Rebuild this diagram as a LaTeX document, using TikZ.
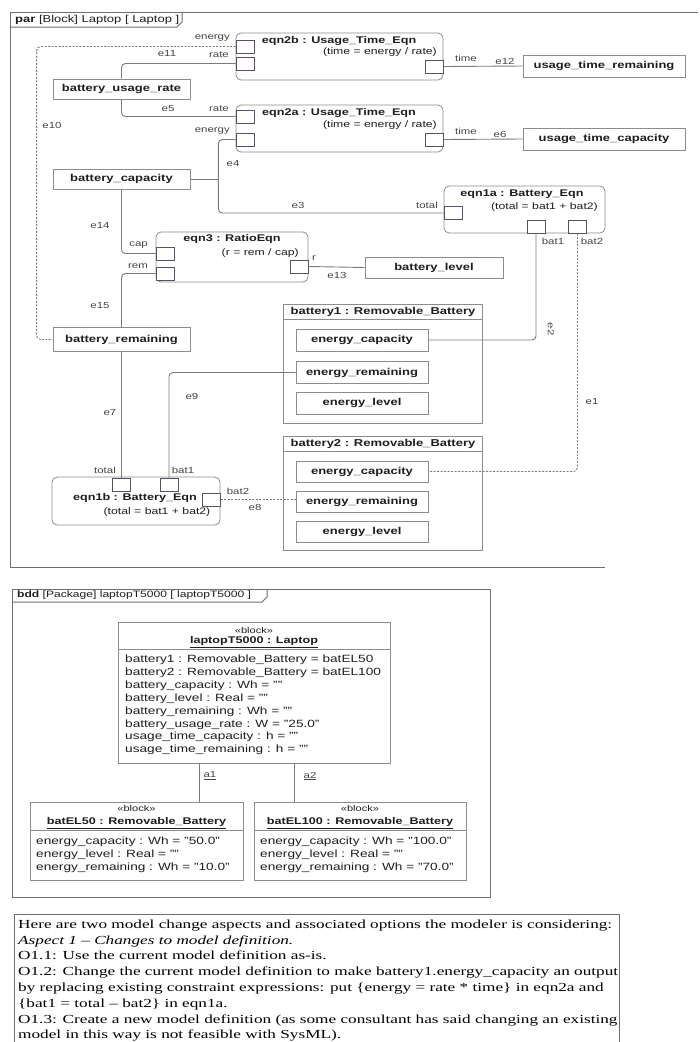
\documentclass[tikz,border=0pt]{standalone}
\usepackage{fontspec}
\usepackage{graphicx}
\setmainfont{Liberation Sans}[FakeStretch=1.3]
\newfontfamily\serifbox{Liberation Serif}
\usetikzlibrary{calc}
\definecolor{framec}{HTML}{707070}
\definecolor{boxc}{HTML}{8C8C8C}
\definecolor{linec}{HTML}{7A7A7A}
\definecolor{portc}{HTML}{5A5060}
\definecolor{txtc}{HTML}{1E1E1E}
\definecolor{lblc}{HTML}{444444}
\newlength\firstlinew
\newcommand\boxfont{\serifbox\fontsize{12.3}{14}\selectfont}
\settowidth\firstlinew{\boxfont Here are two model change aspects and associated options the modeler is considering:}
\newcommand\tline[1]{\scalebox{\tsx}[1]{#1}}
\tikzset{
  frame/.style={draw=framec, line width=1pt},
  box/.style={draw=boxc, line width=0.8pt, fill=white, inner sep=0pt, font=\fontsize{10}{12}\selectfont\bfseries, text=txtc},
  eqnbox/.style={draw=boxc, line width=0.8pt, rounded corners=5pt, inner sep=0pt},
  blk/.style={draw=boxc, line width=0.8pt, inner sep=0pt},
  port/.style={draw=portc, line width=1pt, fill=white, minimum width=18pt, minimum height=13pt, inner sep=0pt},
  ttl/.style={font=\fontsize{9.7}{11}\selectfont\bfseries, text=txtc, inner sep=0pt},
  expr/.style={font=\fontsize{9.4}{11}\selectfont, text=txtc, inner sep=0pt},
  lbl/.style={font=\fontsize{8.8}{10}\selectfont, text=lblc, inner sep=0pt},
  conn/.style={draw=linec, line width=0.9pt, rounded corners=4pt},
  dconn/.style={conn, dash pattern=on 2pt off 1.5pt},
  attr/.style={font=\fontsize{10.5}{12.9}\selectfont, text=txtc, inner sep=0pt, anchor=base west},
  stereo/.style={font=\fontsize{8.5}{10}\selectfont, text=txtc, inner sep=0pt},
  txt/.style={font=\boxfont, text=black, inner sep=0pt, anchor=base west},
}
\begin{document}
\begin{tikzpicture}[x=1pt,y=-1pt]
\pgfmathsetmacro\tsx{594/\firstlinew}
\useasboundingbox (0,0) rectangle (700,1042);
\fill[white] (0,0) rectangle (700,1042);

% ---------------- par frame ----------------
\draw[frame] (10,567) -- (10,12) -- (698,12);
\draw[frame] (10,567) -- (605,567);
\draw[frame] (10,27) -- (177,27) -- (182,22) -- (182,12);
\node[anchor=west, font=\fontsize{10}{11}\selectfont, text=txtc, inner sep=0pt] (partab) at (15,19.5) {\textbf{par} [Block] Laptop [ Laptop ]};

% equation blocks
\node[eqnbox, minimum width=207pt, minimum height=47pt] (eqn2b) at (339.5,56.5) {};
\node[ttl] (eqn2bt) at (339,41) {eqn2b : Usage\_Time\_Eqn};
\node[expr, anchor=east] (eqn2be) at (437,52) {(time = energy / rate)};
\node[port] (p2benergy) at (245,46.5) {};
\node[port] (p2brate) at (245,63.5) {};
\node[port] (p2btime) at (434,66.5) {};

\node[eqnbox, minimum width=207pt, minimum height=47pt] (eqn2a) at (339.5,128.5) {};
\node[ttl] (eqn2at) at (339,113) {eqn2a : Usage\_Time\_Eqn};
\node[expr, anchor=east] (eqn2ae) at (437,125) {(time = energy / rate)};
\node[port] (p2arate) at (245,116.5) {};
\node[port] (p2aenergy) at (245,139.5) {};
\node[port] (p2atime) at (434,139.5) {};

\node[eqnbox, minimum width=161pt, minimum height=47pt] (eqn1a) at (524.5,209.5) {};
\node[ttl] (eqn1at) at (522,194) {eqn1a : Battery\_Eqn};
\node[expr, anchor=east] (eqn1ae) at (598,207) {(total = bat1 + bat2)};
\node[port] (p1atotal) at (453,213) {};
\node[port] (p1abat1) at (536,226.5) {};
\node[port] (p1abat2) at (577.5,226.5) {};

\node[eqnbox, minimum width=152pt, minimum height=50pt] (eqn3) at (232,257) {};
\node[ttl] (eqn3t) at (232,239) {eqn3 : RatioEqn};
\node[expr, anchor=east] (eqn3e) at (299,253) {(r = rem / cap)};
\node[port] (p3cap) at (165,253.5) {};
\node[port] (p3rem) at (165,273.5) {};
\node[port] (p3r) at (299,266.5) {};

\node[eqnbox, minimum width=168pt, minimum height=48pt] (eqn1b) at (136,501) {};
\node[ttl] (eqn1bt) at (135,498) {eqn1b : Battery\_Eqn};
\node[expr] (eqn1be) at (157,512) {(total = bat1 + bat2)};
\node[port] (p1btotal) at (121.5,484.5) {};
\node[port] (p1bbat1) at (169,484.5) {};
\node[port] (p1bbat2) at (211,499.5) {};

% value properties
\node[box, minimum width=137pt, minimum height=20pt] (bur) at (121.5,89) {battery\_usage\_rate};
\node[box, minimum width=137pt, minimum height=20pt] (batcap) at (121.5,179) {battery\_capacity};
\node[box, minimum width=137pt, minimum height=24pt] (batrem) at (121.5,339.5) {battery\_remaining};
\node[box, minimum width=162pt, minimum height=22pt] (utr) at (604,66) {usage\_time\_remaining};
\node[box, minimum width=162pt, minimum height=22pt] (utc) at (604,139) {usage\_time\_capacity};
\node[box, minimum width=138pt, minimum height=21pt] (batlev) at (434,267.5) {battery\_level};

% battery parts
\node[blk, minimum width=199pt, minimum height=119pt] (b1) at (382.5,363.5) {};
\draw[draw=boxc, line width=0.8pt] ([yshift=-16pt]b1.north west) -- ([yshift=-16pt]b1.north east);
\node[ttl, font=\fontsize{10}{12}\selectfont\bfseries] (b1t) at (383,312) {battery1 : Removable\_Battery};
\node[box, minimum width=132pt, minimum height=22pt] (b1cap) at (362,340) {energy\_capacity};
\node[box, minimum width=132pt, minimum height=22pt] (b1rem) at (362,372.5) {energy\_remaining};
\node[box, minimum width=132pt, minimum height=22pt] (b1lev) at (362,403) {energy\_level};

\node[blk, minimum width=199pt, minimum height=114pt] (b2) at (382.5,493) {};
\draw[draw=boxc, line width=0.8pt] ([yshift=-16pt]b2.north west) -- ([yshift=-16pt]b2.north east);
\node[ttl, font=\fontsize{10}{12}\selectfont\bfseries] (b2t) at (383,444) {battery2 : Removable\_Battery};
\node[box, minimum width=132pt, minimum height=21pt] (b2cap) at (362,471.5) {energy\_capacity};
\node[box, minimum width=132pt, minimum height=21pt] (b2rem) at (362,501.5) {energy\_remaining};
\node[box, minimum width=132pt, minimum height=21pt] (b2lev) at (362,531.5) {energy\_level};

% connectors
\draw[dconn] (p2benergy.west) -| ([xshift=-16pt]batrem.west) -- (batrem.west);
\draw[conn] (p2brate.west) -| (bur.north);
\draw[conn] (bur.south) |- (p2arate.west);
\coordinate (j4) at ([xshift=28pt]batcap.east);
\draw[conn] (batcap.east) -- (j4);
\draw[conn] (p2aenergy.west) -| (j4);
\draw[conn] (j4) |- (p1atotal.west);
\draw[conn] (batcap.south) |- (p3cap.west);
\draw[conn] (p3rem.west) -| (batrem.north);
\draw[conn] (p3r.east) -- (batlev.west);
\draw[conn] (p2btime.east) -- (utr.west);
\draw[conn] (p2atime.east) -- (utc.west);
\draw[conn] (p1abat1.south) |- (b1cap.east);
\draw[dconn] (p1abat2.south) |- (b2cap.east);
\draw[conn] (b1rem.west) -| (p1bbat1.north);
\draw[conn] (batrem.south) -- (p1btotal.north);
\draw[dconn] (p1bbat2.east) -- (p1bbat2.east -| b2rem.west);

% port labels
\node[lbl, anchor=east] (l2benergy) at (230,38) {energy};
\node[lbl, anchor=east] (l2brate) at (229,54.5) {rate};
\node[lbl, anchor=east] (l2arate) at (229,109) {rate};
\node[lbl, anchor=east] (l2aenergy) at (230,131) {energy};
\node[lbl] (l2btime) at (466,58) {time};
\node[lbl] (l2atime) at (466,131) {time};
\node[lbl, anchor=east] (l1atotal) at (438,205) {total};
\node[lbl] (l1abat1) at (553,241) {bat1};
\node[lbl] (l1abat2) at (592,241) {bat2};
\node[lbl, anchor=east] (l3cap) at (148,245) {cap};
\node[lbl, anchor=east] (l3rem) at (148,266) {rem};
\node[lbl] (l3r) at (314,258) {r};
\node[lbl] (l1btotal) at (105,470) {total};
\node[lbl] (l1bbat1) at (183,470) {bat1};
\node[lbl] (l1bbat2) at (238,491) {bat2};

% connector labels
\node[lbl] (le11) at (167,54) {e11};
\node[lbl] (le5) at (168,109) {e5};
\node[lbl] (le10) at (52,125) {e10};
\node[lbl] (le4) at (233,164) {e4};
\node[lbl] (le3) at (298,205) {e3};
\node[lbl] (le14) at (100,226) {e14};
\node[lbl] (le15) at (100,306) {e15};
\node[lbl] (le13) at (337,275) {e13};
\node[lbl] (le12) at (505,61) {e12};
\node[lbl] (le6) at (500,134) {e6};
\node[lbl] (le7) at (110,413) {e7};
\node[lbl] (le9) at (192,396) {e9};
\node[lbl] (le1) at (592,402) {e1};
\node[lbl, rotate=-90] (le2) at (551,329) {e2};
\node[lbl] (le8) at (255,507) {e8};

% ---------------- bdd frame ----------------
\draw[frame] (12,589) rectangle (490,897);
\draw[frame] (12,602) -- (262,602) -- (267,597) -- (267,589);
\node[anchor=west, font=\fontsize{9.3}{11}\selectfont, text=txtc, inner sep=0pt] (bddtab) at (17,595.5) {\textbf{bdd} [Package] laptopT5000 [ laptopT5000 ]};

\node[blk, minimum width=272pt, minimum height=141pt] (laptop) at (254,692.5) {};
\draw[draw=boxc, line width=0.8pt] ([yshift=-28pt]laptop.north west) -- ([yshift=-28pt]laptop.north east);
\node[stereo] (lapst) at (254,630) {«block»};
\node[ttl, font=\fontsize{9.7}{11}\selectfont\bfseries] (lapname) at (254,642) {\underline{laptopT5000 : Laptop}};
\foreach \t [count=\i from 0] in {battery1 : Removable\_Battery = batEL50,
  battery2 : Removable\_Battery = batEL100,
  battery\_capacity : Wh = "",
  battery\_level : Real = "",
  battery\_remaining : Wh = "",
  battery\_usage\_rate : W = "25.0",
  usage\_time\_capacity : h = "",
  usage\_time\_remaining : h = ""}
  \node[attr] (la\i) at (125,{662.8+12.86*\i}) {\t};

\node[blk, minimum width=213pt, minimum height=78pt] (bat50) at (136.5,841) {};
\draw[draw=boxc, line width=0.8pt] ([yshift=-29pt]bat50.north west) -- ([yshift=-29pt]bat50.north east);
\node[stereo] (b50st) at (136.5,808) {«block»};
\node[ttl] (b50name) at (136.5,823) {\underline{batEL50 : Removable\_Battery}};
\node[attr] (b50a) at (36,844.5) {energy\_capacity : Wh = "50.0"};
\node[attr] (b50b) at (36,857.5) {energy\_level : Real = ""};
\node[attr] (b50c) at (36,870.5) {energy\_remaining : Wh = "10.0"};

\node[blk, minimum width=212pt, minimum height=78pt] (bat100) at (360,841) {};
\draw[draw=boxc, line width=0.8pt] ([yshift=-29pt]bat100.north west) -- ([yshift=-29pt]bat100.north east);
\node[stereo] (b100st) at (360,808) {«block»};
\node[ttl] (b100name) at (360,823) {\underline{batEL100 : Removable\_Battery}};
\node[attr] (b100a) at (260,844.5) {energy\_capacity : Wh = "100.0"};
\node[attr] (b100b) at (260,857.5) {energy\_level : Real = ""};
\node[attr] (b100c) at (260,870.5) {energy\_remaining : Wh = "70.0"};

\coordinate (a1top) at ([xshift=-55pt]laptop.south);
\coordinate (a1bot) at (a1top |- bat50.north);
\draw[conn] (a1top) -- (a1bot);
\coordinate (a2top) at ([xshift=40pt]laptop.south);
\coordinate (a2bot) at (a2top |- bat100.north);
\draw[conn] (a2top) -- (a2bot);
\node[lbl] (la1) at (210,776) {\underline{a1}};
\node[lbl] (la2) at (310,776) {\underline{a2}};

% ---------------- text box ----------------
\draw[frame, line width=0.8pt] (14.6,1046) -- (14.6,914) -- (619,914) -- (619,1046);
\node[txt] (t1) at (18,928) {\tline{Here are two model change aspects and associated options the modeler is considering:}};
\node[txt] (t2) at (18,944) {\tline{\itshape Aspect 1 – Changes to model definition.}};
\node[txt] (t3) at (18,959.9) {\tline{O1.1: Use the current model definition as-is.}};
\node[txt] (t4) at (18,975.8) {\tline{O1.2: Change the current model definition to make battery1.energy\_capacity an output}};
\node[txt] (t5) at (18,991.7) {\tline{by replacing existing constraint expressions: put \{energy = rate * time\} in eqn2a and}};
\node[txt] (t6) at (18,1007.6) {\tline{\{bat1 = total – bat2\} in eqn1a.}};
\node[txt] (t7) at (18,1023.5) {\tline{O1.3: Create a new model definition (as some consultant has said changing an existing}};
\node[txt] (t8) at (18,1038.6) {\tline{model in this way is not feasible with SysML).}};
\end{tikzpicture}
\end{document}
